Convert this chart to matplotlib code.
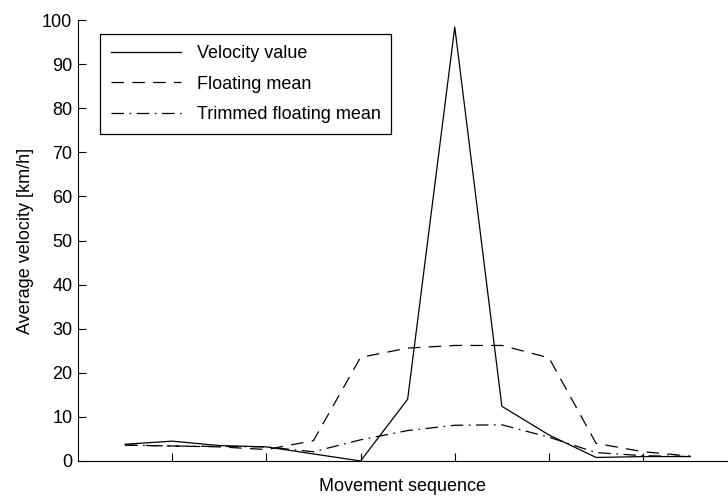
import numpy as np
import matplotlib
matplotlib.use('Agg')
import matplotlib.pyplot as plt

plt.rcParams['font.family'] = ['Liberation Sans', 'DejaVu Sans']
plt.rcParams['lines.scale_dashes'] = False

# movement sequence index
seq = [1, 2, 3, 4, 5, 6, 7, 8, 9, 10, 11, 12, 13]
velocity = [3.8, 4.5, 3.5, 3.2, 1.6, 0.0, 14.0, 98.4, 12.4, 5.9, 0.8, 1.0, 1.0]
floating_mean = [3.6, 3.4, 3.2, 2.6, 4.6, 23.5, 25.6, 26.2, 26.2, 23.4, 4.0, 2.1, 1.1]
trimmed_mean = [3.6, 3.4, 3.3, 3.2, 2.1, 4.8, 6.9, 8.1, 8.2, 5.4, 1.9, 1.2, 1.0]

x_ticks = [2, 4, 6, 8, 10, 12]
y_ticks = [0, 10, 20, 30, 40, 50, 60, 70, 80, 90, 100]

fig = plt.figure(figsize=(7.28, 4.96), dpi=100)
ax = fig.add_axes([0.107, 0.0706, 0.893, 0.889])

ax.plot(seq, velocity, color='black', lw=0.9, label='Velocity value')
ax.plot(seq, floating_mean, color='black', lw=0.9, dashes=(9, 6), label='Floating mean')
ax.plot(seq, trimmed_mean, color='black', lw=0.9, dashes=(9, 4, 1.2, 4), label='Trimmed floating mean')

ax.set_xlim(0, 13.8)
ax.set_ylim(0, 100)
ax.set_xticks(x_ticks)
ax.set_xticklabels([])
ax.set_yticks(y_ticks)
ax.tick_params(direction='in', length=6, width=0.8, labelsize=13, pad=4)
ax.spines['top'].set_visible(False)
ax.spines['right'].set_visible(False)
for s in ['left', 'bottom']:
    ax.spines[s].set_linewidth(0.8)

ax.set_xlabel('Movement sequence', fontsize=13, labelpad=8)
ax.set_ylabel('Average velocity [km/h]', fontsize=13, labelpad=6)

leg = ax.legend(loc='upper left', bbox_to_anchor=(0.034, 0.968), borderaxespad=0,
                fontsize=13, fancybox=False, edgecolor='black', framealpha=1,
                handlelength=3.9, handletextpad=0.85, labelspacing=0.75, borderpad=0.6)
leg.get_frame().set_linewidth(0.9)

fig.savefig('out.png', dpi=100)
